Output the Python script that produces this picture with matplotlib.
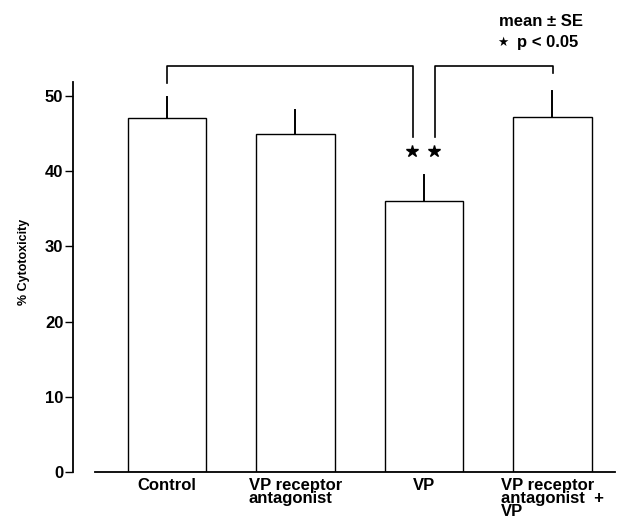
import numpy as np
import matplotlib
matplotlib.use("Agg")
import matplotlib.pyplot as plt

plt.rcParams["font.family"] = ["Liberation Sans", "DejaVu Sans"]
plt.rcParams["font.weight"] = "bold"

# data
groups = ["Control", "VP receptor\nantagonist", "VP", "VP receptor\nantagonist  +\nVP"]
cytotox = [47.1, 45.0, 36.0, 47.2]
se = [2.8, 3.1, 3.5, 3.5]
yticks = [0, 10, 20, 30, 40, 50]

fig = plt.figure(figsize=(6.18, 5.29), dpi=100)
ax = fig.add_axes([73 / 618, 1 - 472 / 529, 1 - 73 / 618, 472 / 529])

x = np.arange(len(groups))
ax.bar(x, cytotox, width=0.61, color="white", edgecolor="black", linewidth=1.0, zorder=2)
# upper whiskers only, no caps
for xi, m, s in zip(x, cytotox, se):
    ax.plot([xi, xi], [m, m + s], color="black", lw=1.4, zorder=3)

ax.set_xlim(-0.73, 3.51)
ax.set_ylim(0, 62.77)

for sp in ["top", "right"]:
    ax.spines[sp].set_visible(False)
ax.spines["left"].set_bounds(0, 51.9)
ax.spines["bottom"].set_bounds(-0.56, 3.49)
ax.spines["left"].set_linewidth(1.3)
ax.spines["bottom"].set_linewidth(1.3)

ax.set_yticks(yticks)
ax.set_yticklabels([str(t) for t in yticks], fontsize=12, fontweight="bold")
ax.tick_params(axis="y", length=6, width=1.0, pad=1)
ax.set_xticks(x)
ax.set_xticklabels(groups, fontsize=12, fontweight="bold", multialignment="left", linespacing=0.85)
ax.tick_params(axis="x", length=0, pad=4)

ax.set_ylabel("% Cytotoxicity", fontsize=9, fontweight="bold")
ax.yaxis.set_label_coords(-0.079, 0.445)

# significance brackets
lw = 1.2
ax.plot([0, 0, 1.914, 1.914], [51.7, 54.0, 54.0, 44.5], color="black", lw=lw, clip_on=False)
ax.plot([2.086, 2.086, 3.004, 3.004], [44.5, 54.0, 54.0, 53.1], color="black", lw=lw, clip_on=False)
ax.plot([1.907, 2.08], [42.7, 42.7], ls="none", marker="*", ms=9, color="black")

# legend text
fig.text(541 / 618, 1 - 22 / 529, "mean \u00b1 SE", ha="center", va="center", fontsize=12, fontweight="bold")
fig.text(503 / 618, 1 - 43 / 529, "\u2605", ha="center", va="center", fontsize=9)
fig.text(517 / 618, 1 - 42 / 529, "p < 0.05", ha="left", va="center", fontsize=12, fontweight="bold")

fig.savefig("out.png", dpi=100)
